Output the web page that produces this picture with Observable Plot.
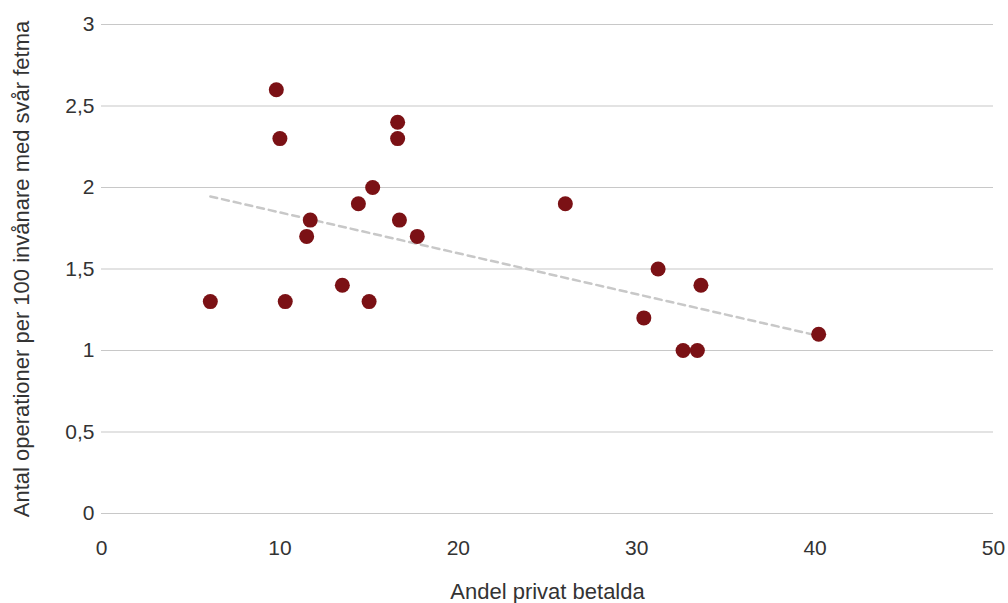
<!DOCTYPE html>
<html>
<head>
<meta charset="utf-8">
<script src="https://cdn.jsdelivr.net/npm/d3@7"></script>
<script src="https://cdn.jsdelivr.net/npm/@observablehq/plot@0.6"></script>
<style>
  html, body { margin: 0; padding: 0; background: #fff; }
  #chart svg { display: block; }
</style>
</head>
<body>
<div id="chart"></div>
<script>
// Andel privat betalda (%)
const privat = [6.1, 9.8, 10.0, 10.3, 11.5, 11.7, 13.5, 14.4, 15.0, 15.2, 16.6, 16.6, 16.7, 17.7, 26.0, 30.4, 31.2, 32.6, 33.4, 33.6, 40.2];
// Antal operationer per 100 invånare med svår fetma
const operationer = [1.3, 2.6, 2.3, 1.3, 1.7, 1.8, 1.4, 1.9, 1.3, 2.0, 2.4, 2.3, 1.8, 1.7, 1.9, 1.2, 1.5, 1.0, 1.0, 1.4, 1.1];
// Trendline endpoints
const trendX = [6.1, 39.8];
const trendY = [1.945, 1.10];
const xTicks = [0, 10, 20, 30, 40, 50];
const yTicks = [0, 0.5, 1, 1.5, 2, 2.5, 3];

const points = privat.map((x, i) => ({x, y: operationer[i]}));
const trend = trendX.map((x, i) => ({x, y: trendY[i]}));
const fmt = d => String(d).replace(".", ",");

const chart = Plot.plot({
  width: 1008,
  height: 603,
  marginLeft: 101,
  marginRight: 15,
  marginTop: 24,
  marginBottom: 90,
  style: {fontFamily: "'Liberation Sans', Arial, sans-serif", fontSize: "21px", color: "#333", background: "#fff"},
  x: {domain: [0, 50], ticks: xTicks, label: null},
  y: {domain: [0, 3], ticks: yTicks, label: null},
  marks: [
    Plot.gridY(yTicks, {stroke: "#c8c8c8", strokeOpacity: 1, strokeWidth: 1.2}),
    Plot.axisY(yTicks, {tickSize: 0, tickPadding: 7, tickFormat: fmt, fontSize: 21, fill: "#333"}),
    Plot.axisX(xTicks, {tickSize: 0, tickPadding: 27, tickFormat: d => String(d), fontSize: 21, fill: "#333"}),
    Plot.line(trend, {x: "x", y: "y", stroke: "#c8c8c8", strokeWidth: 2.5, strokeDasharray: "7,5"}),
    Plot.dot(points, {x: "x", y: "y", r: 7.5, fill: "#7b1115", stroke: "none"}),
    Plot.text(["Andel privat betalda"], {frameAnchor: "bottom", dy: 85, text: d => d, fontSize: 22, fill: "#333"}),
    Plot.text(["Antal operationer per 100 invånare med svår fetma"], {frameAnchor: "left", textAnchor: "middle", dx: -80, rotate: -90, text: d => d, fontSize: 22, fill: "#333"})
  ]
});
document.getElementById("chart").appendChild(chart);
</script>
</body>
</html>
